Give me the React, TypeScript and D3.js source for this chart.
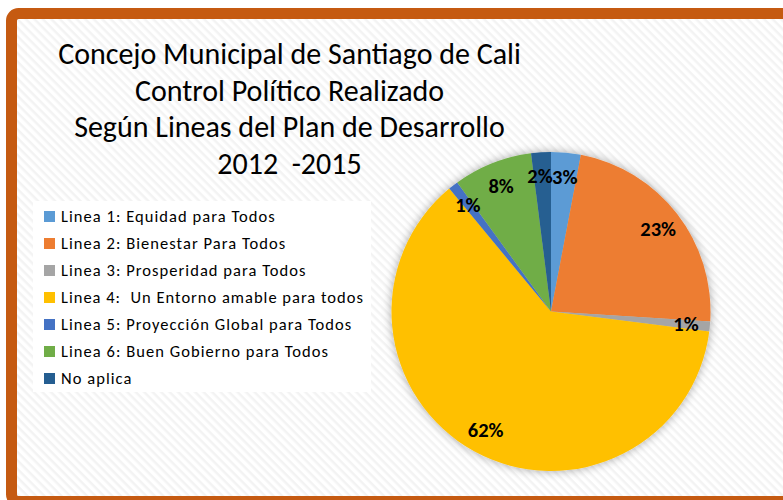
import React, { useEffect, useRef } from 'react';
import * as d3 from 'd3';

const categories = [
  'Linea 1: Equidad para Todos',
  'Linea 2: Bienestar Para Todos',
  'Linea 3: Prosperidad para Todos',
  'Linea 4:  Un Entorno amable para todos',
  'Linea 5: Proyección Global para Todos',
  'Linea 6: Buen Gobierno para Todos',
  'No aplica',
];
const values = [3, 23, 1, 62, 1, 8, 2];
const colors = ['#5B9BD5', '#ED7D31', '#A5A5A5', '#FFC000', '#4472C4', '#70AD47', '#255E91'];
const titleLines = [
  'Concejo Municipal de Santiago de Cali',
  'Control Político Realizado',
  'Según Lineas del Plan de Desarrollo',
  '2012  -2015',
];

const FONT = 'Carlito, Lato, "Liberation Sans", sans-serif';

const App: React.FC = () => {
  const ref = useRef<SVGSVGElement>(null);

  useEffect(() => {
    if (!ref.current) return;
    const width = 783;
    const height = 500;
    const svg = d3.select(ref.current);
    svg.selectAll('*').remove();
    svg.attr('width', width).attr('height', height);

    const defs = svg.append('defs');
    // faint diagonal stripes background
    const pat = defs.append('pattern')
      .attr('id', 'stripes')
      .attr('width', 6)
      .attr('height', 6)
      .attr('patternUnits', 'userSpaceOnUse')
      .attr('patternTransform', 'rotate(45)');
    pat.append('rect').attr('width', 6).attr('height', 6).attr('fill', '#ffffff');
    pat.append('rect').attr('width', 6).attr('height', 2.5).attr('fill', '#f3f3f3');

    const shadow = defs.append('filter')
      .attr('id', 'shadow')
      .attr('x', '-20%').attr('y', '-20%')
      .attr('width', '140%').attr('height', '140%');
    shadow.append('feDropShadow')
      .attr('dx', 0).attr('dy', 0)
      .attr('stdDeviation', 5)
      .attr('flood-color', '#000')
      .attr('flood-opacity', 0.35);

    svg.append('rect')
      .attr('width', width).attr('height', height)
      .attr('fill', '#ffffff');

    // frame
    svg.append('rect')
      .attr('x', 11.5).attr('y', 13.5)
      .attr('width', 778).attr('height', 488)
      .attr('rx', 7)
      .attr('fill', 'url(#stripes)')
      .attr('stroke', '#C55A11')
      .attr('stroke-width', 11);

    // title
    const title = svg.append('text')
      .attr('text-anchor', 'middle')
      .style('font-family', FONT)
      .style('font-size', '30px')
      .attr('fill', '#000');
    titleLines.forEach((t, i) => {
      title.append('tspan')
        .attr('x', 289.5)
        .attr('y', 64 + i * 36.5)
        .style('white-space', 'pre')
        .text(t);
    });

    // legend
    const legend = svg.append('g').attr('transform', 'translate(33,201)');
    legend.append('rect')
      .attr('width', 338).attr('height', 191)
      .attr('fill', '#ffffff');
    categories.forEach((c, i) => {
      const row = legend.append('g').attr('transform', `translate(11, ${10 + i * 27})`);
      row.append('rect')
        .attr('width', 11).attr('height', 11)
        .attr('fill', colors[i]);
      row.append('text')
        .attr('x', 17)
        .attr('y', 11)
        .style('font-family', FONT)
        .style('font-size', '16.5px')
        .style('letter-spacing', i === 3 ? '1px' : '1.05px')
        .style('white-space', 'pre')
        .attr('fill', '#000')
        .text(c);
    });

    // pie
    const cx = 551;
    const cy = 311.5;
    const r = 159.5;
    const pie = d3.pie<number>().sort(null).value(d => d);
    const arcs = pie(values);
    const arc = d3.arc<d3.PieArcDatum<number>>().innerRadius(0).outerRadius(r);
    const labelArc = d3.arc<d3.PieArcDatum<number>>().innerRadius(r * 0.85).outerRadius(r * 0.85);

    const g = svg.append('g').attr('transform', `translate(${cx},${cy})`);
    g.append('g')
      .attr('filter', 'url(#shadow)')
      .selectAll('path')
      .data(arcs)
      .join('path')
      .attr('d', arc)
      .attr('fill', (_, i) => colors[i]);

    const total = d3.sum(values);
    const last = arcs.length - 1;
    g.selectAll('text.lbl')
      .data(arcs)
      .join('text')
      .attr('class', 'lbl')
      .attr('transform', d => `translate(${labelArc.centroid(d)})`)
      // the two small slices at 12 o'clock sit side by side, push them apart a little
      .attr('dx', (_, i) => (i === 0 ? 1 : i === last ? -2.5 : 0))
      .attr('text-anchor', 'middle')
      .attr('dy', '0.35em')
      .style('font-family', FONT)
      .style('font-size', '20.5px')
      .style('font-weight', 'bold')
      .attr('fill', '#000')
      .text(d => `${Math.round((d.data / total) * 100)}%`);
  }, []);

  return (
    <svg ref={ref} style={{ position: 'absolute', left: 0, top: 0, display: 'block' }}></svg>
  );
};

export default App;
